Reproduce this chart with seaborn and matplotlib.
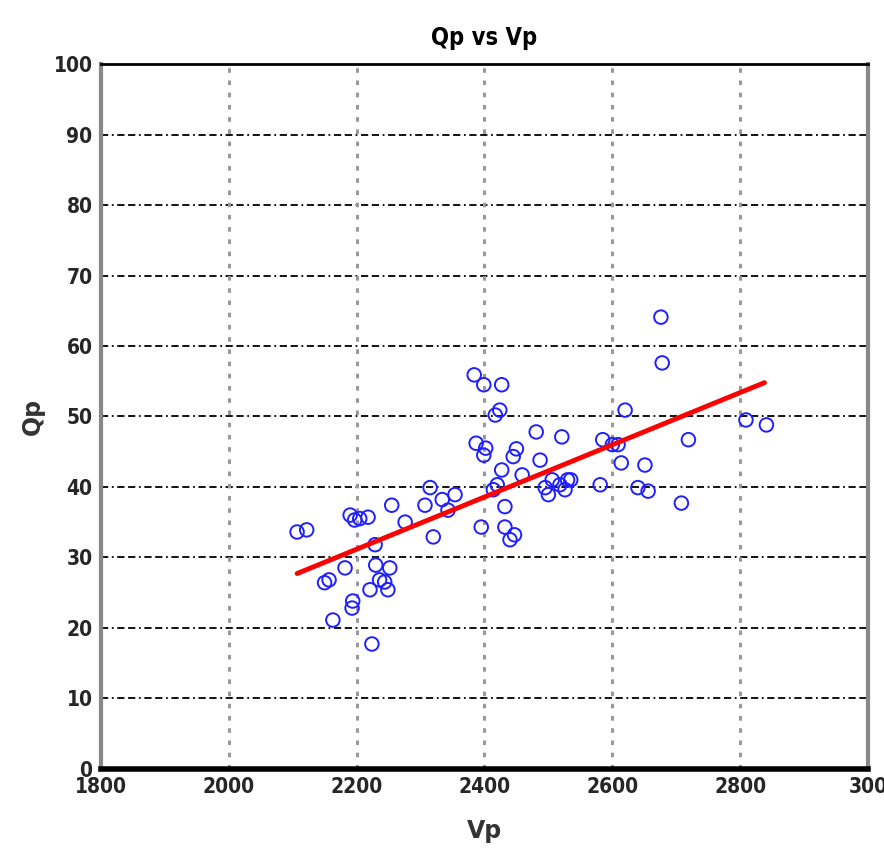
# Qp vs Vp - diagrama de dispersión con recta de ajuste

import pandas as pd
import matplotlib
matplotlib.use("Agg")
import matplotlib.pyplot as plt
import seaborn as sns

# Datos
vp = [2107, 2122, 2150, 2157, 2163, 2182, 2190, 2197, 2205, 2193, 2194,
      2218, 2224, 2221, 2229, 2230, 2236, 2244, 2249, 2255, 2252, 2276,
      2307, 2315, 2320, 2334, 2343, 2354, 2384, 2399, 2387, 2399, 2402,
      2395, 2417, 2424, 2427, 2420, 2414, 2427, 2432, 2432, 2440, 2447,
      2445, 2450, 2459, 2481, 2487, 2495, 2500, 2506, 2518, 2521, 2530,
      2526, 2535, 2581, 2585, 2600, 2609, 2614, 2620, 2640, 2651, 2656,
      2676, 2678, 2708, 2719, 2809, 2841]
qp = [33.6, 33.9, 26.4, 26.8, 21.1, 28.5, 36.0, 35.3, 35.5, 22.8, 23.8,
      35.7, 17.7, 25.4, 31.8, 28.9, 26.8, 26.5, 25.4, 37.4, 28.5, 35.0,
      37.4, 39.9, 32.9, 38.2, 36.7, 38.9, 55.9, 54.5, 46.2, 44.5, 45.5,
      34.3, 50.2, 50.9, 54.5, 40.3, 39.6, 42.4, 37.2, 34.3, 32.5, 33.2,
      44.3, 45.4, 41.7, 47.8, 43.8, 39.9, 38.9, 41.0, 40.3, 47.1, 41.0,
      39.6, 41.0, 40.3, 46.7, 46.0, 46.0, 43.4, 50.9, 39.9, 43.1, 39.4,
      64.1, 57.6, 37.7, 46.7, 49.5, 48.8]

# Recta de ajuste (extremos)
fit_vp = [2107, 2838]
fit_qp = [27.7, 54.8]

x_ticks = [1800, 2000, 2200, 2400, 2600, 2800, 3000]
x_labels = ["1800", "2000", "2200", "2400", "2600", "2800", "300"]
y_ticks = [0, 10, 20, 30, 40, 50, 60, 70, 80, 90, 100]

df = pd.DataFrame({"Vp": vp, "Qp": qp})
df_fit = pd.DataFrame({"Vp": fit_vp, "Qp": fit_qp})

sns.set_style("white")
plt.rcParams["font.family"] = ["DejaVu Sans"]

fig = plt.figure(figsize=(8.84, 8.56), dpi=100)
ax = fig.add_axes([0.114, 0.102, 0.868, 0.823])

# Rejilla
for yv in y_ticks[1:-1]:
    ax.axhline(yv, color="black", lw=1.3, ls=(0, (4, 2, 1, 2, 4, 2)), zorder=0)
for xv in x_ticks[1:-1]:
    ax.axvline(xv, color="#999999", lw=2.2, ls=(0, (1.5, 2.5)), zorder=0)

sns.scatterplot(data=df, x="Vp", y="Qp", ax=ax, marker="o",
                facecolors="none", edgecolor="#2020ff", linewidth=1.4,
                s=95, zorder=3)
sns.lineplot(data=df_fit, x="Vp", y="Qp", ax=ax, color="red", lw=3.5, zorder=4)

ax.set_xlim(1800, 3000)
ax.set_ylim(0, 100)
ax.set_xticks(x_ticks)
ax.set_xticklabels(x_labels)
ax.set_yticks(y_ticks)

for lbl in ax.get_xticklabels() + ax.get_yticklabels():
    lbl.set_fontweight("bold")
    lbl.set_fontsize(15)
    lbl.set_fontstretch("condensed")

ax.tick_params(direction="in", length=6, width=1.5, color="black", pad=6)

ax.set_title("Qp vs Vp", fontsize=17, fontweight="bold", fontstretch="condensed",
             color="black", pad=14)
ax.set_xlabel("Vp", fontsize=17, fontweight="bold", color="#333333", labelpad=16)
ax.set_ylabel("Qp", fontsize=17, fontweight="bold", color="#333333", labelpad=6)

# Marco
ax.spines["left"].set_color("#888888")
ax.spines["left"].set_linewidth(3)
ax.spines["right"].set_color("#888888")
ax.spines["right"].set_linewidth(3)
ax.spines["top"].set_color("black")
ax.spines["top"].set_linewidth(2)
ax.spines["bottom"].set_color("black")
ax.spines["bottom"].set_linewidth(4)

fig.savefig("out.png", dpi=100)
